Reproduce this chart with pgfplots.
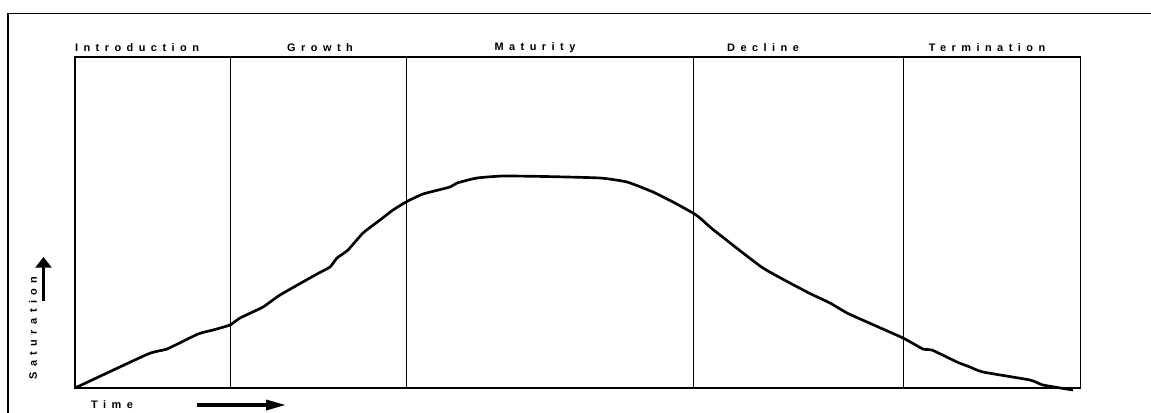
\documentclass[border=0pt]{standalone}
\usepackage{fontspec}
\setmainfont{Liberation Sans}
\usepackage{pgfplots}
\pgfplotsset{compat=1.18}
\usetikzlibrary{arrows.meta}
\newcommand{\lab}{\fontsize{8.2}{9.5}\selectfont\bfseries\addfontfeature{LetterSpace=50}}
\begin{document}
\begin{tikzpicture}
\begin{axis}[
  scale only axis,
  width=754.1pt, height=248.25pt,
  xmin=0, xmax=1005.5, ymin=0, ymax=331,
  ticks=none, clip=false,
  axis line style={line width=1pt, black},
]
% divider lines
\addplot[black, line width=0.75pt] coordinates {(155,0) (155,331)};
\addplot[black, line width=0.75pt] coordinates {(331,0) (331,331)};
\addplot[black, line width=0.75pt] coordinates {(618,0) (618,331)};
\addplot[black, line width=0.75pt] coordinates {(828,0) (828,331)};
% life-cycle curve
\addplot[black, line width=2pt, smooth, tension=0.3] coordinates {
(0,0) (73,34) (92,39) (123,54) (138,58) (155,63) (165,70) (188,81) (205,93)
(242,114) (255,121) (262,130) (273,138) (288,155) (305,168) (318,178) (331,186)
(348,194) (375,201) (382,205) (402,210) (428,212) (470,211.5) (525,210) (552,206)
(578,196) (598,186) (618,175) (625,170) (635,161) (645,153) (688,120) (732,96)
(755,85) (772,75) (792,66) (828,50) (848,39) (857,38) (882,26) (895,21) (908,16)
(955,8) (968,3) (998,-2)};
% phase labels
\node[font=\lab] at (axis cs:62,340) {Introduction};
\node[font=\lab] at (axis cs:245,340) {Growth};
\node[font=\lab] at (axis cs:460,340) {Maturity};
\node[font=\lab] at (axis cs:688,340) {Decline};
\node[font=\lab] at (axis cs:912,340) {Termination};
% axis captions
\node[font=\lab, rotate=90] at (axis cs:-42,60) {Saturation};
\draw[line width=2.6pt, -{Triangle[length=8pt, width=12pt]}] (axis cs:-31.5,87) -- (axis cs:-31.5,131);
\node[font=\lab] at (axis cs:37,-17) {Time};
\draw[line width=2.6pt, -{Triangle[length=15pt, width=7.5pt]}] (axis cs:122,-17) -- (axis cs:211,-17);
% outer frame
\draw[line width=1pt] (axis cs:-67,-30) -- (axis cs:-67,374.3) -- (axis cs:1080,374.3);
\coordinate (BL) at (axis cs:-75,-24);
\coordinate (TR) at (axis cs:1076,388);
\end{axis}
\pgfresetboundingbox
\path[use as bounding box] (BL) rectangle (TR);
\end{tikzpicture}
\end{document}
